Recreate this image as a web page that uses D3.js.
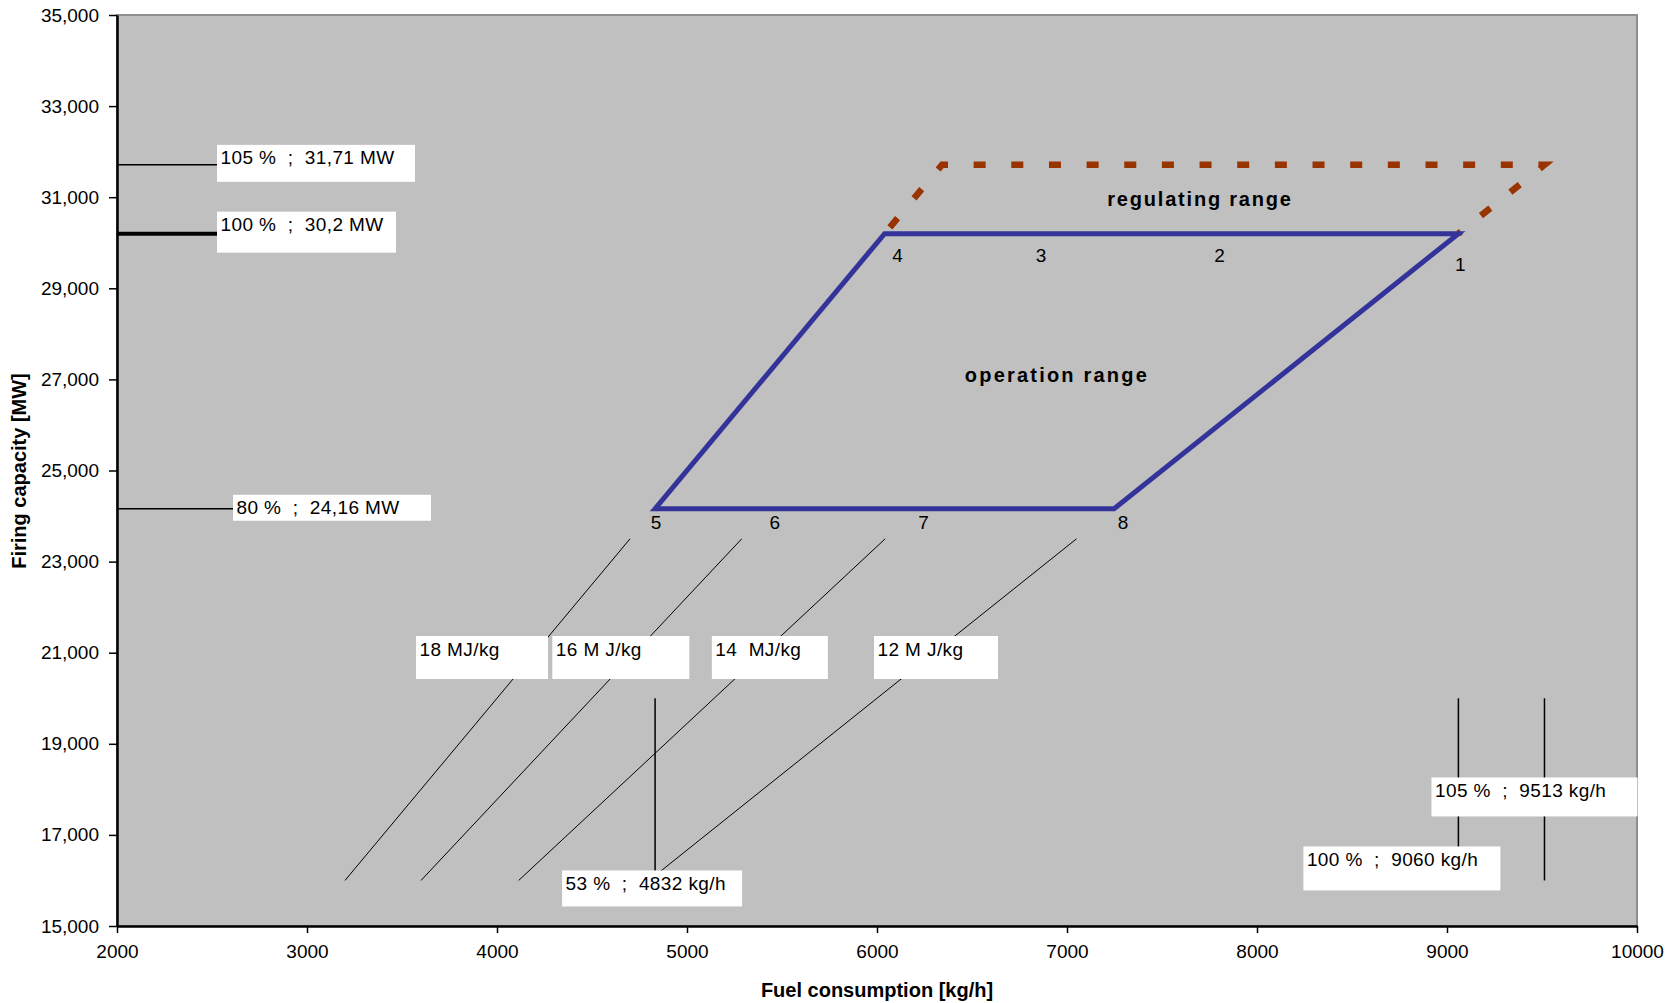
<!DOCTYPE html>
<html><head><meta charset="utf-8">
<script src="https://cdn.jsdelivr.net/npm/d3@7"></script>
<style>
body{margin:0;background:#fff;}
svg text{font-family:"Liberation Sans",Arial,sans-serif;}
</style>
</head><body>
<svg id="chart" width="1677" height="1003"></svg>
<script>
// ---------- data ----------
const xDomain = [2000, 10000];
const yDomain = [15000, 35000];
const xTickValues = [2000, 3000, 4000, 5000, 6000, 7000, 8000, 9000, 10000];
const yTickValues = [15000, 17000, 19000, 21000, 23000, 25000, 27000, 29000, 31000, 33000, 35000];
const xTitle = "Fuel consumption [kg/h]";
const yTitle = "Firing capacity [MW]";

// operation range (solid blue parallelogram)
const operationFuel  = [6040, 9060, 7248, 4832];
const operationPower = [30200, 30200, 24160, 24160];
// regulating range (dashed brown)
const regulatingFuel  = [6040, 6342, 9513, 9060];
const regulatingPower = [30200, 31710, 31710, 30200];

// numbered operating points
const pointIds   = ["1", "2", "3", "4", "5", "6", "7", "8"];
const pointFuel  = [9060, 7766, 6795, 6040, 4832, 5436, 6213, 7248];
const pointPower = [30200, 30200, 30200, 30200, 24160, 24160, 24160, 24160];

// heating value lines
const hvLabels    = ["18 MJ/kg", "16 M J/kg", "14  MJ/kg", "12 M J/kg"];
const hvFuelStart = [3200, 3600, 4114, 4800];
const hvFuelEnd   = [4700, 5288, 6043, 7050];
const hvPowerStart = 16000;
const hvPowerEnd   = 23500;

// capacity reference marks
const powerMarks  = [31710, 30200, 24160];
const powerLabels = ["105 %  ;  31,71 MW", "100 %  ;  30,2 MW", "80 %  ;  24,16 MW"];
// fuel reference marks
const fuelMarks  = [4832, 9060, 9513];
const fuelLabels = ["53 %  ;  4832 kg/h", "100 %  ;  9060 kg/h", "105 %  ;  9513 kg/h"];
const fuelMarkFrom = 16000, fuelMarkTo = 20000;

// range captions
const rangeCaptions = ["regulating range", "operation range"];
const rangeCaptionFuel  = [7700, 6947];
const rangeCaptionPower = [30960, 27097];

// ---------- layout (pixels) ----------
const M = {left: 117, top: 15, right: 40, bottom: 77};
const W = 1677 - M.left - M.right, H = 1003 - M.top - M.bottom;
const pointLabelOffset = [[2,37],[7,28],[13,28],[13,28],[1,20],[5,20],[6,20],[9,20]];
const powerBox = [{dx:100,top:-20,w:198,h:37,lw:1.5},{dx:100,top:-22,w:179,h:41,lw:4},{dx:116,top:-14,w:198,h:26,lw:1.5}];
const fuelBox  = [{dx:-93,top:-10,w:180,h:36},{dx:-155,top:-34,w:197,h:44},{dx:-113,top:-103,w:206,h:39}];
const hvBox    = [{dx:-115,w:132},{dx:-78,w:137},{dx:-46,w:116},{dx:-54,w:124}];
const hvBoxTop = 636, hvBoxH = 43;

const svg = d3.select("#chart");
const x = d3.scaleLinear().domain(xDomain).range([M.left, M.left + W]);
const y = d3.scaleLinear().domain(yDomain).range([M.top + H, M.top]);

// plot background
svg.append("rect").attr("x", M.left).attr("y", M.top).attr("width", W).attr("height", H)
  .attr("fill", "#c0c0c0").attr("stroke", "#8e8e8e").attr("stroke-width", 2);

// heating value lines
const hvG = svg.append("g");
hvLabels.forEach((l, i) => {
  hvG.append("line")
    .attr("x1", x(hvFuelStart[i])).attr("y1", y(hvPowerStart))
    .attr("x2", x(hvFuelEnd[i])).attr("y2", y(hvPowerEnd))
    .attr("stroke", "#000").attr("stroke-width", 1);
});

// fuel marks (vertical)
fuelMarks.forEach((f, i) => {
  svg.append("line").attr("x1", x(f)).attr("x2", x(f))
    .attr("y1", y(fuelMarkTo)).attr("y2", y(fuelMarkFrom))
    .attr("stroke", "#000").attr("stroke-width", 1.5);
});

// power marks (horizontal)
powerMarks.forEach((p, i) => {
  svg.append("line").attr("x1", x(xDomain[0])).attr("x2", M.left + powerBox[i].dx)
    .attr("y1", y(p)).attr("y2", y(p))
    .attr("stroke", "#000").attr("stroke-width", powerBox[i].lw);
});

// ranges
const line = d3.line().x(d => x(d[0])).y(d => y(d[1]));
const regPts = regulatingFuel.map((f, i) => [f, regulatingPower[i]]);
// dash pattern chosen so that both upper corners carry a dash
const pxPts = regPts.map(d => [x(d[0]), y(d[1])]);
const seg1 = Math.hypot(pxPts[1][0] - pxPts[0][0], pxPts[1][1] - pxPts[0][1]);
const seg2 = Math.hypot(pxPts[2][0] - pxPts[1][0], pxPts[2][1] - pxPts[1][1]);
const period = seg2 / Math.round(seg2 / 37.5), dashLen = 12;
const startDash = (seg1 - dashLen / 2) % period;
svg.append("path").attr("d", line(regPts)).attr("fill", "none")
  .attr("stroke", "#993300").attr("stroke-width", 6.5)
  .attr("stroke-dasharray", `${dashLen},${period - dashLen}`)
  .attr("stroke-dashoffset", -startDash + 0.0001 + period);
const opPts = operationFuel.map((f, i) => [f, operationPower[i]]);
svg.append("path").attr("d", line(opPts) + "Z").attr("fill", "none")
  .attr("stroke", "#333399").attr("stroke-width", 5).attr("stroke-linejoin", "miter");

// text boxes
function box(bx, by, w, h, txt) {
  svg.append("rect").attr("x", bx).attr("y", by).attr("width", w).attr("height", h).attr("fill", "#fff");
  svg.append("text").attr("x", bx + 3.5).attr("y", by + 19.5).text(txt)
    .style("white-space", "pre").attr("font-size", 19).attr("letter-spacing", 0.4).attr("fill", "#000");
}
powerMarks.forEach((p, i) => box(M.left + powerBox[i].dx, y(p) + powerBox[i].top, powerBox[i].w, powerBox[i].h, powerLabels[i]));
fuelMarks.forEach((f, i) => box(x(f) + fuelBox[i].dx, y(fuelMarkFrom) + fuelBox[i].top, fuelBox[i].w, fuelBox[i].h, fuelLabels[i]));
hvLabels.forEach((l, i) => {
  const pc = y.invert(hvBoxTop + hvBoxH / 2);
  const t = (pc - hvPowerStart) / (hvPowerEnd - hvPowerStart);
  const fc = hvFuelStart[i] + t * (hvFuelEnd[i] - hvFuelStart[i]);
  box(x(fc) + hvBox[i].dx, hvBoxTop, hvBox[i].w, hvBoxH, l);
});

// point labels
pointIds.forEach((id, i) => {
  svg.append("text").attr("x", x(pointFuel[i]) + pointLabelOffset[i][0])
    .attr("y", y(pointPower[i]) + pointLabelOffset[i][1])
    .attr("text-anchor", "middle").attr("font-size", 19).text(id);
});

// range captions
rangeCaptions.forEach((c, i) => {
  svg.append("text").attr("x", x(rangeCaptionFuel[i])).attr("y", y(rangeCaptionPower[i]) + 7)
    .attr("text-anchor", "middle").attr("font-size", 20).attr("font-weight", "bold")
    .attr("letter-spacing", i === 0 ? 1.8 : 2.2).text(c);
});

// axes
const xAxis = d3.axisBottom(x).tickValues(xTickValues).tickFormat(d3.format("d")).tickSizeInner(7).tickSizeOuter(0).tickPadding(12);
const yAxis = d3.axisLeft(y).tickValues(yTickValues).tickFormat(d3.format(",")).tickSizeInner(8).tickSizeOuter(0).tickPadding(10);
const gx = svg.append("g").attr("transform", `translate(0,${M.top + H})`).call(xAxis);
const gy = svg.append("g").attr("transform", `translate(${M.left},0)`).call(yAxis);
[gx, gy].forEach(g => {
  g.select(".domain").attr("stroke", "#000").attr("stroke-width", 2.5);
  g.selectAll(".tick line").attr("stroke", "#000").attr("stroke-width", 1.5);
  g.selectAll(".tick text").attr("font-size", 19).attr("fill", "#000")
    .attr("font-family", "'Liberation Sans',Arial,sans-serif");
});

// axis titles
svg.append("text").attr("x", M.left + W / 2).attr("y", 997).attr("text-anchor", "middle")
  .attr("font-size", 20).attr("font-weight", "bold").text(xTitle);
svg.append("text").attr("transform", `translate(26,471) rotate(-90)`).attr("text-anchor", "middle")
  .attr("font-size", 20).attr("font-weight", "bold").text(yTitle);
</script>
</body></html>
